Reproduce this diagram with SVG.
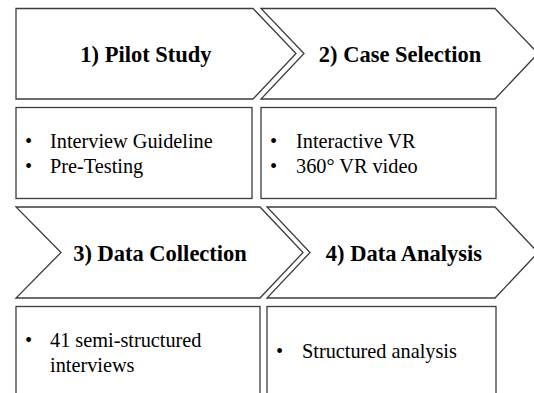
<svg xmlns="http://www.w3.org/2000/svg" width="534" height="393" viewBox="0 0 534 393">
<style>
.sh{fill:#ffffff;stroke:#3c3c3c;stroke-width:1.3;stroke-linejoin:miter}
text{font-family:'Liberation Serif','Times New Roman',Times,serif;fill:#000}
.h{font-weight:bold;font-size:22.5px;text-anchor:middle}
.b{font-size:20.3px}
</style>
<rect width="534" height="393" fill="#ffffff"/>
<g id="step1">
<path class="sh" d="M16,8.5 H253 L296,53.5 L253,99 H16 Z"/>
<text class="h" x="146" y="62" font-family="Liberation Serif, serif">1) Pilot Study</text>
</g>
<g id="step2">
<path class="sh" d="M261,8.5 H495 L538,53.5 L495,99 H261 L304,53.5 Z"/>
<text class="h" x="400" y="62">2) Case Selection</text>
</g>
<g id="box1">
<rect class="sh" x="16" y="107.5" width="236" height="91"/>
<text class="b" x="25" y="148">•</text>
<text class="b" x="50" y="148">Interview Guideline</text>
<text class="b" x="25" y="173">•</text>
<text class="b" x="50" y="173">Pre-Testing</text>
</g>
<g id="box2">
<rect class="sh" x="261" y="107.5" width="235" height="91"/>
<text class="b" x="270" y="148">•</text>
<text class="b" x="296" y="148">Interactive VR</text>
<text class="b" x="270" y="173">•</text>
<text class="b" x="296" y="173">360° VR video</text>
</g>
<g id="step3">
<path class="sh" d="M16,207 H260 L303,252.5 L260,298 H16 L61,252.5 Z"/>
<text class="h" x="160" y="261">3) Data Collection</text>
</g>
<g id="step4">
<path class="sh" d="M267,207 H495 L538,252.5 L495,298 H267 L310,252.5 Z"/>
<text class="h" x="404" y="261">4) Data Analysis</text>
</g>
<g id="box3">
<rect class="sh" x="16" y="306.5" width="244" height="100"/>
<text class="b" x="25" y="347">•</text>
<text class="b" x="50" y="347">41 semi-structured</text>
<text class="b" x="50" y="372">interviews</text>
</g>
<g id="box4">
<rect class="sh" x="267" y="306.5" width="229" height="100"/>
<text class="b" x="276" y="358">•</text>
<text class="b" x="302" y="358">Structured analysis</text>
</g>
<g id="connectors"/>
</svg>
